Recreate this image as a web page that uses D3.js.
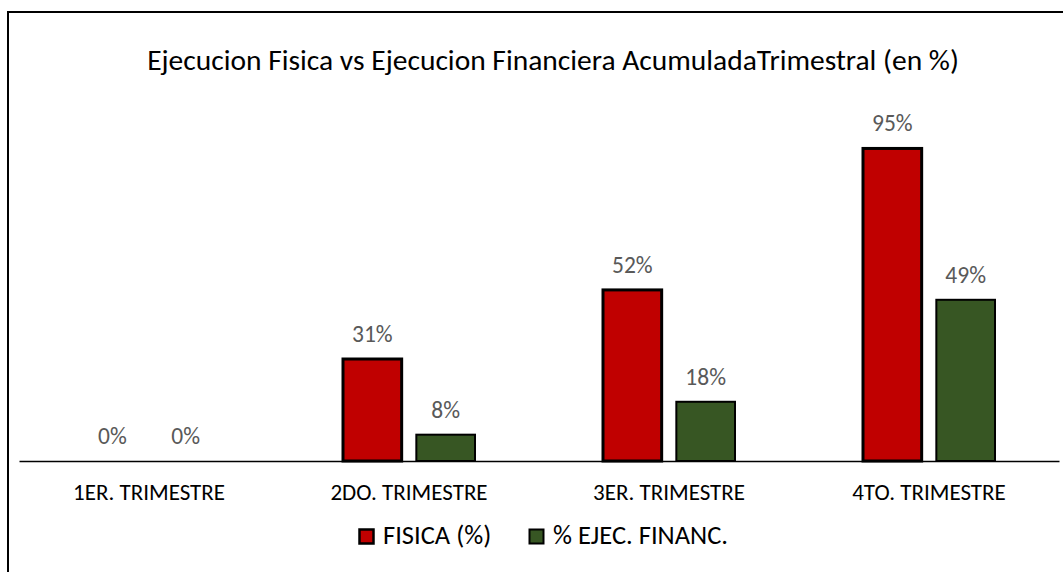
<!DOCTYPE html>
<html>
<head>
<meta charset="utf-8">
<script src="https://cdn.jsdelivr.net/npm/d3@7"></script>
<style>
  body { margin: 0; background: white; }
  svg { display: block; }
</style>
</head>
<body>
<div id="chart"></div>
<script>
// Data
const categories = ["1ER. TRIMESTRE", "2DO. TRIMESTRE", "3ER. TRIMESTRE", "4TO. TRIMESTRE"];
const fisica = [0, 31, 52, 95];
const financ = [0, 8, 18, 49];
const seriesNames = ["FISICA (%)", "% EJEC. FINANC."];
const seriesColors = ["#c00000", "#375623"];

const width = 1063, height = 572;
const fontFamily = "Carlito, Calibri, 'Open Sans', sans-serif";

const svg = d3.select("#chart").append("svg")
    .attr("width", width)
    .attr("height", height)
    .style("font-family", fontFamily);

// Chart frame (only left and top visible, the rest runs off the page)
svg.append("rect")
    .attr("x", 8)
    .attr("y", 12)
    .attr("width", 1100)
    .attr("height", 600)
    .attr("fill", "none")
    .attr("stroke", "black")
    .attr("stroke-width", 2);

// Title
svg.append("text")
    .attr("x", 553)
    .attr("y", 70)
    .attr("text-anchor", "middle")
    .attr("font-size", 29.5)
    .attr("fill", "#000")
    .text("Ejecucion Fisica vs Ejecucion Financiera AcumuladaTrimestral (en %)");

const plot = { left: 19, right: 1059, top: 132, bottom: 461 };

const x0 = d3.scaleBand()
    .domain(categories)
    .range([plot.left, plot.right]);

const x1 = d3.scaleBand()
    .domain([0, 1])
    .range([x0.bandwidth() / 2 - 66, x0.bandwidth() / 2 + 66])
    .paddingInner(0.2);

const y = d3.scaleLinear()
    .domain([0, 100])
    .range([plot.bottom, plot.top]);

const rows = categories.map((c, i) => ({ cat: c, values: [fisica[i], financ[i]] }));

const groups = svg.append("g")
    .selectAll("g")
    .data(rows)
    .join("g")
    .attr("transform", d => `translate(${x0(d.cat)},0)`);

groups.selectAll("rect")
    .data(d => d.values.map((v, k) => ({ v, k })))
    .join("rect")
    .filter(d => d.v > 0)
    .attr("x", d => x1(d.k))
    .attr("y", d => y(d.v))
    .attr("width", x1.bandwidth())
    .attr("height", d => y(0) - y(d.v))
    .attr("fill", d => seriesColors[d.k])
    .attr("stroke", "black")
    .attr("stroke-width", d => d.k === 0 ? 3 : 2);

// Data labels
groups.selectAll("text")
    .data(d => d.values.map((v, k) => ({ v, k })))
    .join("text")
    .attr("x", d => x1(d.k) + x1.bandwidth() / 2)
    .attr("y", d => y(d.v) - 17)
    .attr("text-anchor", "middle")
    .attr("font-size", 23.5)
    .attr("fill", "#595959")
    .text(d => d3.format(".0f")(d.v) + "%");

// Category axis
const xAxis = svg.append("g")
    .attr("transform", `translate(0,${plot.bottom})`)
    .call(d3.axisBottom(x0).tickSize(0).tickPadding(0));
xAxis.select(".domain")
    .attr("stroke", "black")
    .attr("stroke-width", 1.5);
xAxis.selectAll("text")
    .attr("dy", null)
    .attr("y", 39)
    .attr("font-family", fontFamily)
    .attr("font-size", 23)
    .attr("fill", "black");

// Legend
const legendItems = [
  { name: seriesNames[0], color: seriesColors[0], x: 358, sw: 2.5 },
  { name: seriesNames[1], color: seriesColors[1], x: 528, sw: 2 }
];
const legend = svg.append("g")
    .selectAll("g")
    .data(legendItems)
    .join("g")
    .attr("transform", d => `translate(${d.x},528)`);
legend.append("rect")
    .attr("x", 1.5)
    .attr("y", 1.5)
    .attr("width", 14)
    .attr("height", 14)
    .attr("fill", d => d.color)
    .attr("stroke", "black")
    .attr("stroke-width", d => d.sw);
legend.append("text")
    .attr("x", 25)
    .attr("y", 16)
    .attr("font-size", 26.5)
    .attr("fill", "black")
    .text(d => d.name);
</script>
</body>
</html>
